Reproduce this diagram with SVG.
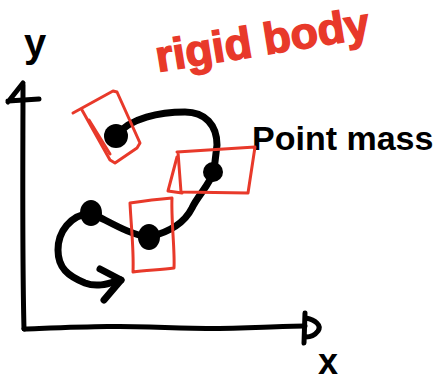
<svg xmlns="http://www.w3.org/2000/svg" width="445" height="383" viewBox="0 0 445 383">
  <style>
    .ink { fill: none; stroke: #000; stroke-linecap: round; stroke-linejoin: round; }
    .axis { stroke-width: 5; }
    .path { stroke-width: 7; }
    .body { fill: none; stroke: #e8392a; stroke-width: 3; stroke-linecap: round; stroke-linejoin: round; }
    .mass { fill: #000; }
    .lbl { font-family: "Liberation Sans", "DejaVu Sans", sans-serif; font-weight: bold; }
  </style>
  <rect width="445" height="383" fill="#fff"/>

  <!-- coordinate axes -->
  <g id="axes">
    <path class="ink axis" d="M23,85 C23,150 22,250 24,329"/>
    <path class="ink axis" d="M8,102 L23,83 M8,101 L39,99"/>
    <path class="ink axis" d="M24,329 C80,327 120,325 180,328 C230,330 270,326 305,326"/>
    <path class="ink axis" d="M305,313 L304,343 M306,318 C315,320 322,325 318,331 C315,335 310,337 306,337"/>
  </g>

  <g id="labels">
    <text class="lbl" x="24" y="57" font-size="40">y</text>
    <text class="lbl" x="328" y="374" font-size="36" text-anchor="middle">x</text>
    <text class="lbl" x="252" y="150" font-size="34">Point mass</text>
    <text class="lbl" x="158" y="72" font-size="44" fill="#e8392a" font-weight="normal" stroke="#e8392a" stroke-width="1.5" textLength="216" lengthAdjust="spacingAndGlyphs" transform="rotate(-9.2 158 72)">rigid body</text>
  </g>

  <!-- trajectory connecting the positions -->
  <g id="connectors">
    <path class="ink path" d="M117,135 C130,118 160,112 185,112 C205,112 217,125 217,145 L214,170 C210,185 198,195 192,208 C185,222 170,232 149,237 C130,235 110,222 91,213 C70,215 58,232 58,250 C58,268 68,276 85,283 C98,288 110,283 121,280"/>
    <path class="ink path" d="M100,269 L121,280 L104,300"/>
  </g>

  <!-- point mass positions -->
  <g id="mass-1"><ellipse class="mass" cx="116" cy="136" rx="12" ry="12"/></g>
  <g id="mass-2"><ellipse class="mass" cx="213" cy="172" rx="10" ry="10"/></g>
  <g id="mass-3"><ellipse class="mass" cx="149" cy="237" rx="11" ry="13"/></g>
  <g id="mass-4"><ellipse class="mass" cx="91" cy="213" rx="11" ry="13"/></g>

  <!-- rigid body outlines -->
  <g id="body-1">
    <path class="body" d="M73,113 L113,91 L117,92 L140,143 L137,148 L115,163 L110,160 L82,110"/>
    <path class="body" d="M89,120 L110,154"/>
  </g>
  <g id="body-2">
    <path class="body" d="M177,152 L255,147 L248,193 L181,192 L178,152"/>
    <path class="body" d="M177,157 L168,191 L182,193"/>
  </g>
  <g id="body-3">
    <path class="body" d="M130,203 C150,200 160,199 172,198 C171,220 175,250 174,268 C160,270 145,270 133,272 C134,250 131,225 130,203"/>
  </g>
</svg>
